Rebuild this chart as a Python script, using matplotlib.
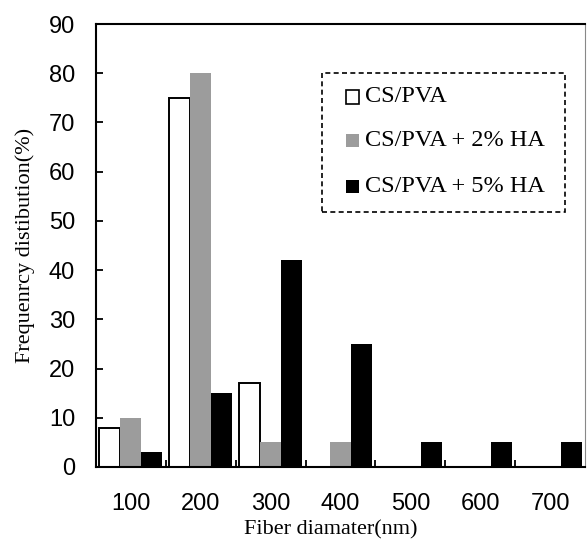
import numpy as np
import matplotlib
matplotlib.use("Agg")
import matplotlib.pyplot as plt
from matplotlib.patches import Rectangle
from matplotlib.ticker import FixedLocator

# data
diameters = ["100", "200", "300", "400", "500", "600", "700"]
cs_pva = [8, 75, 17, 0, 0, 0, 0]
cs_pva_2ha = [10, 80, 5, 5, 0, 0, 0]
cs_pva_5ha = [3, 15, 42, 25, 5, 5, 5]
series_names = ["CS/PVA", "CS/PVA + 2% HA", "CS/PVA + 5% HA"]
series_faces = ["white", "#9c9c9c", "black"]

serif = ["Liberation Serif", "DejaVu Serif"]
sans = ["Liberation Sans", "DejaVu Sans"]

W, H = 587, 546
fig = plt.figure(figsize=(W / 100, H / 100), dpi=100)
ax = fig.add_axes([0.1635, 0.1447, 0.8331, 0.8113])

x = np.arange(len(diameters))
w = 0.3
ax.bar(x - w, cs_pva, w, color=series_faces[0], edgecolor="black", linewidth=1.4, zorder=2)
ax.bar(x, cs_pva_2ha, w, color=series_faces[1], linewidth=0, zorder=2)
ax.bar(x + w, cs_pva_5ha, w, color=series_faces[2], linewidth=0, zorder=2)

ax.set_xlim(-0.5, len(diameters) - 0.5)
ax.set_ylim(0, 90)
ax.set_yticks(range(0, 91, 10))
ax.set_xticks(x)
ax.set_xticklabels(diameters)
ax.xaxis.set_minor_locator(FixedLocator(np.arange(0.5, len(diameters) - 1, 1)))

ax.tick_params(axis="x", which="major", length=0, pad=19, labelsize=17)
ax.tick_params(axis="x", which="minor", direction="in", length=5, width=1.3)
ax.tick_params(axis="y", direction="in", length=5, width=1.3, pad=15, labelsize=17)
for lab in ax.get_xticklabels() + ax.get_yticklabels():
    lab.set_family(sans)

for side in ["left", "bottom", "top"]:
    ax.spines[side].set_linewidth(1.5)
ax.spines["right"].set_linewidth(0.8)
ax.spines["right"].set_color("#888888")

ax.set_xlabel("Fiber diamater(nm)", family=serif, fontsize=16)
ax.set_ylabel("Frequenrcy distibution(%)", family=serif, fontsize=16)
ax.xaxis.set_label_coords(0.48, -0.12)
ax.yaxis.set_label_coords(-0.125, 0.5)

# legend drawn by hand in pixel coordinates (dashed box)
def px(xp, yp):
    return xp / W, 1 - yp / H

bx0, by0 = px(322, 212)
bx1, by1 = px(565, 73)
fig.patches.append(Rectangle((bx0, by0), bx1 - bx0, by1 - by0, transform=fig.transFigure,
                             facecolor="white", edgecolor="black", linewidth=1.2,
                             linestyle=(0, (3, 2)), zorder=5))
rows = [97, 141, 186]
for name, face, yr in zip(series_names, series_faces, rows):
    mx, my = px(346, yr + 6.5)
    fig.patches.append(Rectangle((mx, my), 13 / W, 13 / H, transform=fig.transFigure,
                                 facecolor=face, edgecolor="black" if face == "white" else "none",
                                 linewidth=1.2, zorder=6))
    tx, ty = px(365, yr)
    fig.text(tx, ty, name, family=serif, fontsize=17.5, ha="left", va="center", zorder=6)

fig.savefig("out.png", dpi=100)
